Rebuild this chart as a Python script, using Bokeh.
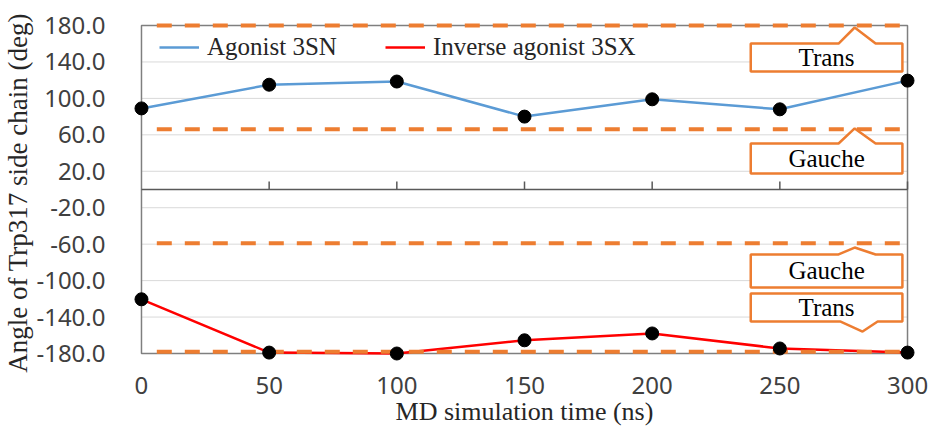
from bokeh.plotting import figure
from bokeh.models import Range1d, FixedTicker, Legend, LegendItem, NumeralTickFormatter, ColumnDataSource
from bokeh.embed import file_html
from bokeh.resources import INLINE
from bokeh.core.properties import value

# ---- data ----
time_ns = [0, 50, 100, 150, 200, 250, 300]
agonist_3sn = [89, 115, 118.5, 80, 99, 88, 119.5]
inverse_3sx = [-120.5, -179, -180, -165.5, -158, -174.5, -179]
x_ticks = [0, 50, 100, 150, 200, 250, 300]
y_ticks = [-180, -140, -100, -60, -20, 20, 60, 100, 140, 180]
ref_levels = [180, 66, -59, -178]          # orange dashed reference lines (deg)
ref_x_start = 6
# callouts: label, tip x, tip y, box left, box right, box top, box bottom, base left, base right
callout_labels = ["Trans", "Gauche", "Gauche", "Trans"]
callout_tip_x = [279.3, 279.3, 279.3, 282.4]
callout_tip_y = [177.8, 67.0, -63.7, -155.9]
callout_box_x0 = [238.6, 238.6, 238.6, 238.6]
callout_box_x1 = [298.0, 298.0, 298.0, 298.0]
callout_box_top = [160.2, 50.5, -71.3, -114.1]
callout_box_bot = [129.5, 17.6, -107.6, -144.9]
callout_base_x0 = [273.0, 273.0, 273.0, 273.8]
callout_base_x1 = [287.5, 287.5, 287.5, 288.3]

ORANGE = "#ED7D31"
BLUE = "#5B9BD5"
RED = "#FF0000"
GRID = "#D9D9D9"
AXIS = "#7F7F7F"
SERIF = "Liberation Serif"
SANS = "Noto Sans"

xpad = 15 * 300 / 767
ypad = 13 * 360 / 328

p = figure(width=929, height=430, output_backend="svg", toolbar_location=None,
           x_range=Range1d(x_ticks[0] - xpad, x_ticks[-1] + xpad),
           y_range=Range1d(y_ticks[0] - ypad, y_ticks[-1] + ypad),
           min_border_left=125, min_border_right=7, min_border_top=12, min_border_bottom=64)
p.outline_line_color = None
p.xgrid.visible = False
p.ygrid.visible = False

# axes
p.yaxis.ticker = FixedTicker(ticks=y_ticks)
p.yaxis.formatter = NumeralTickFormatter(format="0.0")
p.xaxis.ticker = FixedTicker(ticks=x_ticks)
for ax in (p.xaxis[0], p.yaxis[0]):
    ax.axis_line_color = None
    ax.major_tick_line_color = None
    ax.minor_tick_line_color = None
    ax.major_label_text_font = SANS
    ax.major_label_text_font_size = "24px"
    ax.major_label_text_color = "#404040"
    ax.axis_label_text_font = SERIF
    ax.axis_label_text_font_style = "normal"
    ax.axis_label_text_color = "#262626"
p.yaxis.major_label_standoff = 15
p.yaxis.axis_label = "Angle of Trp317 side chain  (deg)"
p.yaxis.axis_label_text_font_size = "27px"
p.yaxis.axis_label_standoff = 0
p.xaxis.major_label_standoff = 4
p.xaxis.axis_label = "MD simulation time (ns)"
p.xaxis.axis_label_text_font_size = "26px"
p.xaxis.axis_label_standoff = 0

x0, x1 = x_ticks[0], x_ticks[-1]
inner = [t for t in y_ticks if t not in (y_ticks[0], y_ticks[-1])]
p.segment(x0=[x0] * len(inner), x1=[x1] * len(inner), y0=inner, y1=inner,
          line_color=GRID, line_width=1)
# plot border
p.quad(left=x0, right=x1, bottom=y_ticks[0], top=y_ticks[-1], fill_alpha=0,
       line_color=AXIS, line_width=1.5)
# horizontal axis at 0 with inward ticks
p.segment(x0=[x0], x1=[x1], y0=[0], y1=[0], line_color="#595959", line_width=1.5)
tick_len = 8 * 360 / 328
p.segment(x0=x_ticks[1:], x1=x_ticks[1:], y0=[0] * (len(x_ticks) - 1),
          y1=[tick_len] * (len(x_ticks) - 1), line_color="#595959", line_width=1.5)

# data lines
l1 = p.line(time_ns, agonist_3sn, line_color=BLUE, line_width=2.5)
l2 = p.line(time_ns, inverse_3sx, line_color=RED, line_width=2.5)

# orange dashed reference lines
p.segment(x0=[ref_x_start] * len(ref_levels), x1=[x1] * len(ref_levels),
          y0=ref_levels, y1=ref_levels, line_color=ORANGE, line_width=4,
          line_dash="15 13")

# callouts
xs, ys = [], []
for i in range(len(callout_labels)):
    bx0, bx1 = callout_box_x0[i], callout_box_x1[i]
    top, bot = callout_box_top[i], callout_box_bot[i]
    b0, b1 = callout_base_x0[i], callout_base_x1[i]
    tx, ty = callout_tip_x[i], callout_tip_y[i]
    if ty > top:
        xs.append([bx0, b0, tx, b1, bx1, bx1, bx0])
        ys.append([top, top, ty, top, top, bot, bot])
    else:
        xs.append([bx0, bx1, bx1, b1, tx, b0, bx0])
        ys.append([top, top, bot, bot, ty, bot, bot])
p.patches(xs, ys, fill_color="white", line_color=ORANGE, line_width=2.5)
src = ColumnDataSource(dict(
    x=[(a + b) / 2 for a, b in zip(callout_box_x0, callout_box_x1)],
    y=[(a + b) / 2 for a, b in zip(callout_box_top, callout_box_bot)],
    t=callout_labels))
p.text(x="x", y="y", text="t", source=src, text_align="center", text_baseline="middle",
       text_font=value(SERIF), text_font_size="25px", text_color="#000000")

# markers
p.scatter(time_ns, agonist_3sn, size=13, color="black")
p.scatter(time_ns, inverse_3sx, size=13, color="black")

legend = Legend(items=[LegendItem(label="Agonist 3SN", renderers=[l1]),
                       LegendItem(label="Inverse agonist 3SX", renderers=[l2])],
                orientation="horizontal", location=(33, 304),
                padding=0, margin=0, spacing=48, label_standoff=8,
                glyph_width=40, glyph_height=30, label_height=30,
                label_text_font=SERIF, label_text_font_size="25px",
                label_text_color="#262626",
                border_line_color=None, background_fill_alpha=0)
p.add_layout(legend, "center")

open("out.html", "w").write(file_html(p, INLINE))
